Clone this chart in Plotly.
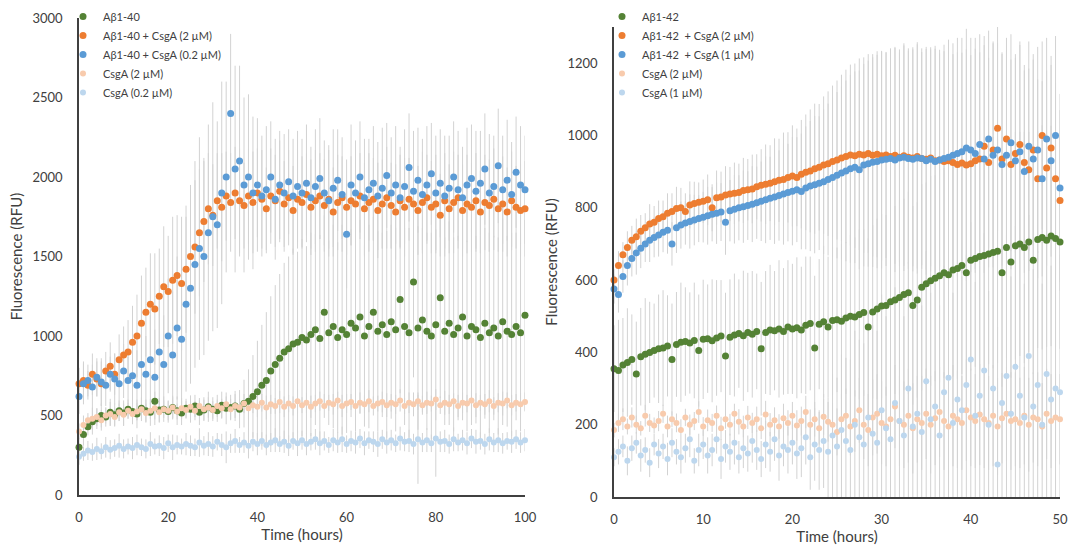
import numpy as np
import plotly.graph_objects as go

# ---------------- Left panel: Aβ1-40 (hourly readings, 0-100 h) ----------------
TIME_40 = np.arange(0, 101, 1)

AB40 = [300, 380, 430, 460, 480, 500, 490, 520, 505, 530,
        515, 540, 525, 510, 545, 530, 520, 590, 535, 540,
        525, 550, 530, 515, 545, 540, 560, 520, 535, 555,
        540, 530, 565, 545, 550, 560, 540, 575, 590, 620,
        650, 690, 720, 780, 820, 860, 900, 920, 950, 960,
        990, 975, 1010, 1040, 985, 1150, 1020, 1060, 990, 1040,
        1010, 1080, 1050, 1120, 1000, 1060, 1150, 1030, 1070, 1010,
        1090, 1040, 1230, 1060, 1020, 1340, 1050, 1100, 1030, 1000,
        1070, 1240, 1030, 1080, 1010, 1050, 1120, 1000, 1060, 1040,
        990, 1080, 1020, 1050, 1000, 1090, 1030, 1010, 1060, 1020,
        1130]
AB40_ERR = [60, 70, 55, 80, 65, 75, 60, 85, 70, 65,
            80, 60, 75, 90, 65, 70, 85, 60, 75, 80,
            70, 65, 90, 75, 60, 85, 70, 80, 65, 95,
            75, 70, 85, 100, 80, 95, 120, 150, 200, 260,
            320, 380, 430, 470, 500, 530, 560, 580, 600, 570,
            620, 590, 640, 600, 650, 610, 580, 640, 600, 660,
            620, 590, 650, 610, 570, 640, 600, 630, 580, 650,
            610, 640, 590, 620, 660, 600, 640, 580, 620, 650,
            600, 630, 590, 640, 610, 580, 650, 600, 620, 590,
            640, 600, 630, 580, 620, 650, 600, 640, 590, 620,
            600]

AB40_CSGA2 = [700, 720, 690, 760, 730, 700, 780, 810, 760, 850,
              880, 900, 960, 1000, 1080, 1150, 1200, 1170, 1250, 1310,
              1280, 1350, 1380, 1330, 1420, 1500, 1560, 1650, 1720, 1800,
              1760, 1850, 1810, 1880, 1840, 1900, 1850, 1820, 1880, 1840,
              1900, 1860, 1800, 1880, 1850, 1910, 1830, 1870, 1790, 1860,
              1840, 1890, 1810, 1850, 1880, 1820, 1860, 1780, 1840, 1870,
              1810, 1850, 1830, 1880, 1800, 1840, 1860, 1790, 1830, 1870,
              1820, 1780, 1850, 1810, 1860, 1830, 1790, 1840, 1870, 1810,
              1830, 1760, 1850, 1800, 1840, 1870, 1790, 1830, 1810, 1850,
              1780, 1840, 1820, 1860, 1800, 1830, 1780, 1850, 1810, 1790,
              1800]
AB40_CSGA2_ERR = [100, 120, 90, 130, 110, 140, 120, 150, 130, 160,
                  180, 200, 230, 260, 300, 280, 320, 350, 300, 380,
                  350, 400, 380, 420, 400, 450, 420, 400, 380, 350,
                  320, 300, 340, 280, 310, 290, 330, 270, 300, 320,
                  280, 310, 260, 300, 290, 320, 270, 300, 280, 310,
                  290, 260, 300, 320, 270, 290, 310, 280, 300, 260,
                  300, 280, 320, 270, 290, 310, 260, 300, 280, 320,
                  270, 300, 290, 310, 260, 300, 280, 320, 270, 290,
                  310, 260, 300, 280, 320, 270, 290, 310, 280, 300,
                  260, 300, 290, 320, 270, 300, 280, 310, 260, 290,
                  300]

AB40_CSGA02 = [620, 700, 720, 680, 740, 710, 690, 760, 730, 700,
               780, 720, 750, 690, 820, 760, 850, 740, 900, 820,
               1000, 880, 1050, 980, 1200, 1300, 1450, 1550, 1500, 1650,
               1750, 1700, 1900, 2000, 2400, 2050, 2100, 1950, 2000, 1900,
               1950, 1880, 1920, 2000, 1860, 1950, 1900, 1970, 1880, 1940,
               1900, 1960, 1870, 1940, 1990, 1900, 1850, 1930, 1980, 1890,
               1640, 1950, 1900, 2000, 1870, 1920, 1960, 1880, 1930, 2010,
               1900, 1950, 1870, 1940, 2060, 1910, 1980, 1890, 1950, 2020,
               1900, 1960, 1880, 1930, 2000, 1920, 1870, 1950, 1990, 1910,
               1960, 2050, 1900, 1940, 2070, 1920, 1980, 1890, 2030, 1950,
               1920]
AB40_CSGA02_ERR = [110, 130, 100, 140, 120, 150, 130, 110, 160, 140,
                   170, 150, 190, 220, 260, 240, 280, 300, 330, 310,
                   360, 400, 450, 500, 550, 600, 650, 700, 620, 680,
                   720, 650, 700, 600, 500, 650, 600, 550, 520, 480,
                   420, 380, 400, 350, 380, 340, 370, 330, 360, 350,
                   340, 370, 320, 360, 380, 330, 350, 370, 320, 360,
                   340, 380, 330, 350, 370, 320, 360, 340, 380, 330,
                   350, 370, 320, 360, 340, 380, 330, 350, 370, 320,
                   360, 340, 380, 330, 350, 370, 320, 360, 340, 380,
                   330, 350, 370, 320, 360, 340, 380, 330, 350, 370,
                   340]

CSGA2_L = [400, 440, 470, 480, 490, 470, 500, 510, 490, 520,
           505, 530, 510, 525, 540, 515, 530, 545, 520, 540,
           530, 550, 525, 545, 535, 555, 530, 560, 540, 550,
           535, 560, 545, 570, 540, 560, 550, 575, 545, 565,
           555, 580, 550, 570, 560, 585, 555, 575, 560, 590,
           565, 580, 555, 575, 590, 560, 580, 570, 595, 560,
           575, 585, 560, 580, 570, 590, 560, 575, 585, 565,
           580, 570, 595, 560, 580, 570, 590, 565, 580, 575,
           600, 565, 580, 570, 590, 560, 580, 575, 595, 565,
           580, 570, 590, 560, 580, 575, 595, 565, 580, 570,
           585]
CSGA2_L_ERR = [50, 60, 45, 70, 55, 65, 50, 75, 60, 55,
               70, 50, 65, 55, 75, 60, 50, 70, 65, 55,
               60, 75, 50, 65, 55, 70, 60, 50, 75, 65,
               55, 70, 60, 50, 65, 75, 55, 60, 70, 50,
               65, 55, 75, 60, 50, 70, 65, 55, 60, 75,
               50, 65, 70, 55, 60, 75, 50, 65, 55, 70,
               60, 50, 75, 65, 55, 70, 60, 50, 65, 75,
               55, 60, 70, 50, 65, 75, 55, 60, 70, 50,
               65, 55, 75, 60, 50, 70, 65, 55, 60, 75,
               50, 65, 70, 55, 60, 75, 50, 65, 55, 70,
               60]

CSGA02_L = [240, 260, 280, 270, 290, 275, 300, 285, 295, 310,
            290, 305, 295, 315, 300, 290, 320, 305, 310, 295,
            325, 300, 315, 305, 320, 310, 300, 330, 310, 320,
            305, 335, 315, 300, 325, 340, 315, 330, 310, 335,
            320, 340, 315, 330, 345, 320, 335, 310, 340, 325,
            345, 320, 335, 350, 325, 340, 315, 345, 330, 350,
            320, 340, 330, 355, 325, 345, 335, 320, 350, 330,
            345, 325, 355, 335, 340, 320, 350, 330, 345, 325,
            355, 335, 340, 320, 350, 330, 345, 325, 355, 335,
            340, 320, 350, 330, 345, 325, 340, 335, 350, 330,
            345]
CSGA02_L_ERR = [50, 45, 60, 55, 70, 50, 65, 60, 55, 75,
                60, 50, 70, 65, 55, 60, 75, 50, 65, 70,
                55, 80, 60, 50, 70, 65, 55, 90, 60, 75,
                65, 55, 70, 100, 60, 75, 50, 65, 80, 60,
                70, 55, 65, 60, 75, 50, 70, 65, 55, 80,
                60, 70, 55, 65, 75, 60, 50, 70, 65, 80,
                55, 65, 70, 60, 75, 55, 65, 80, 60, 70,
                65, 55, 75, 60, 70, 65, 280, 60, 75, 55,
                240, 65, 70, 60, 75, 55, 65, 70, 60, 75,
                55, 65, 70, 60, 75, 65, 55, 70, 60, 65,
                70]

# ---------------- Right panel: Aβ1-42 (half-hourly readings, 0-50 h) ----------------
TIME_42 = np.arange(0, 101) * 0.5

AB42 = [355, 350, 365, 372, 380, 340, 388, 395, 400, 405,
        410, 412, 418, 380, 422, 428, 430, 426, 433, 405,
        436, 438, 432, 440, 445, 390, 442, 448, 452, 446,
        455, 450, 458, 410, 455, 462, 460, 465, 458, 470,
        465, 468, 462, 475, 480, 412, 478, 485, 470, 488,
        490, 486, 495, 500, 498, 505, 510, 470, 512, 520,
        528, 530, 540, 545, 552, 560, 565, 530, 545, 580,
        590, 598, 605, 612, 620, 615, 628, 632, 640, 620,
        655, 660, 665, 668, 672, 676, 680, 620, 690, 650,
        695, 700, 690, 705, 655, 712, 718, 710, 722, 715,
        705]
AB42_ERR = [120, 140, 130, 150, 125, 145, 135, 155, 140, 130,
            150, 160, 140, 155, 145, 165, 150, 140, 160, 155,
            165, 150, 170, 160, 155, 175, 160, 170, 150, 180,
            165, 175, 160, 185, 170, 180, 165, 190, 175, 185,
            180, 195, 175, 190, 185, 200, 180, 210, 195, 205,
            200, 215, 210, 225, 220, 235, 230, 245, 240, 250,
            255, 250, 265, 260, 270, 265, 280, 275, 270, 285,
            280, 290, 285, 295, 290, 300, 295, 305, 300, 310,
            305, 300, 315, 310, 305, 320, 310, 315, 305, 320,
            315, 310, 320, 305, 315, 300, 310, 295, 305, 300,
            295]

AB42_CSGA2 = [600, 640, 670, 690, 710, 720, 735, 745, 755, 760,
              770, 775, 785, 790, 798, 800, 790, 808, 812, 815,
              818, 822, 800, 828, 830, 835, 838, 840, 842, 848,
              850, 852, 858, 862, 865, 868, 872, 876, 878, 884,
              888, 884, 893, 898, 902, 908, 912, 918, 922, 928,
              932, 938, 942, 946, 944, 948, 946, 950, 945, 948,
              944, 946, 942, 945, 940, 944, 940, 938, 942, 936,
              934, 938, 930, 932, 928, 930, 925, 920, 924, 918,
              922, 930, 935, 970, 925, 960, 1020, 935, 990, 920,
              950, 975, 925, 905, 960, 880, 1000, 910, 965, 880,
              820]
AB42_CSGA2_ERR = [30, 40, 35, 45, 40, 50, 45, 40, 55, 45,
                  50, 45, 55, 50, 60, 55, 50, 65, 60, 55,
                  60, 70, 65, 75, 70, 80, 75, 85, 80, 90,
                  85, 95, 90, 100, 110, 105, 120, 115, 130, 125,
                  140, 135, 150, 160, 170, 180, 175, 190, 200, 210,
                  220, 230, 240, 250, 255, 265, 270, 275, 280, 285,
                  290, 285, 295, 300, 290, 305, 295, 300, 310, 295,
                  305, 300, 310, 295, 305, 315, 300, 310, 305, 320,
                  300, 310, 295, 305, 290, 300, 285, 295, 280, 290,
                  275, 285, 270, 280, 265, 275, 260, 270, 255, 265,
                  250]

AB42_CSGA1 = [575, 560, 610, 640, 660, 675, 688, 700, 710, 718,
              725, 732, 738, 700, 745, 752, 758, 762, 766, 770,
              774, 778, 782, 785, 788, 760, 792, 796, 800, 803,
              806, 810, 814, 818, 822, 826, 830, 834, 838, 842,
              846, 850, 845, 855, 860, 864, 868, 872, 878, 884,
              890, 896, 902, 908, 912, 905, 918, 922, 926, 928,
              932, 934, 936, 932, 938, 940, 936, 934, 938, 936,
              930, 934, 928, 932, 936, 940, 945, 950, 955, 965,
              960, 950, 975, 935, 990, 945, 960, 920, 945, 980,
              930, 955, 900, 970, 935, 960, 880, 990, 930, 1000,
              855]
AB42_CSGA1_ERR = [40, 50, 45, 55, 50, 60, 55, 50, 60, 55,
                  60, 55, 65, 60, 70, 65, 60, 75, 70, 65,
                  70, 80, 75, 85, 80, 90, 85, 95, 90, 100,
                  95, 105, 100, 110, 120, 115, 130, 125, 140, 135,
                  150, 145, 160, 170, 180, 190, 185, 200, 210, 220,
                  230, 240, 250, 260, 265, 275, 280, 285, 290, 295,
                  300, 295, 305, 310, 300, 315, 305, 310, 320, 305,
                  315, 310, 320, 305, 315, 325, 310, 320, 315, 330,
                  310, 320, 305, 315, 300, 310, 295, 305, 290, 300,
                  285, 295, 280, 290, 275, 285, 270, 280, 265, 275,
                  260]

CSGA2_R = [185, 205, 215, 195, 220, 200, 190, 225, 205, 198,
           210, 230, 195, 215, 205, 185, 220, 200, 210, 235,
           195, 212, 205, 225, 190, 215, 200, 230, 208, 195,
           220, 205, 215, 190, 228, 200, 212, 195, 218, 205,
           225, 198, 210, 235, 200, 215, 190, 222, 208, 200,
           180, 215, 225, 195, 210, 240, 200, 185, 220, 230,
           205, 195, 215, 250, 210, 200, 225, 190, 215, 205,
           230, 200, 218, 235, 210, 195, 225, 215, 205, 240,
           220, 210, 228, 215, 205, 225, 195, 218, 230, 210,
           215, 205, 225, 200, 220, 215, 195, 230, 210, 220,
           215]
CSGA2_R_ERR = [20, 25, 30, 22, 28, 25, 20, 30, 25, 22,
               28, 25, 30, 22, 26, 30, 24, 28, 25, 30,
               26, 30, 25, 28, 32, 26, 30, 28, 35, 30,
               32, 28, 35, 30, 38, 32, 36, 34, 40, 35,
               38, 42, 40, 45, 42, 48, 45, 50, 55, 60,
               65, 70, 75, 80, 85, 90, 95, 100, 105, 110,
               115, 110, 120, 115, 125, 120, 130, 125, 120, 130,
               125, 135, 130, 125, 135, 130, 140, 135, 130, 140,
               135, 130, 140, 135, 130, 140, 135, 125, 130, 135,
               130, 125, 135, 130, 125, 130, 120, 125, 130, 120,
               125]

CSGA1_R = [110, 125, 140, 100, 135, 150, 115, 130, 95, 145,
           120, 140, 105, 150, 125, 110, 135, 160, 100, 130,
           145, 115, 130, 160, 105, 140, 125, 150, 110, 135,
           120, 155, 130, 105, 145, 125, 160, 115, 140, 130,
           150, 120, 135, 165, 110, 145, 130, 155, 125, 170,
           140, 185, 155, 130, 200, 165, 145, 220, 175, 150,
           240, 190, 160, 260, 210, 170, 300, 195, 230, 180,
           320, 215, 250, 170, 290, 330, 205, 270, 240, 310,
           380, 225, 280, 350, 200, 300, 90, 260, 335, 230,
           360, 280, 220, 390, 250, 310, 200, 340, 270, 300,
           290]
CSGA1_R_ERR = [25, 35, 30, 40, 35, 30, 45, 35, 40, 30,
               40, 35, 45, 40, 35, 45, 40, 50, 35, 45,
               40, 50, 45, 40, 55, 45, 50, 60, 45, 55,
               50, 60, 55, 50, 65, 55, 60, 70, 55, 65,
               60, 70, 80, 75, 90, 100, 110, 130, 150, 170,
               190, 210, 230, 250, 260, 270, 280, 290, 300, 310,
               320, 310, 330, 320, 340, 330, 350, 340, 330, 350,
               360, 350, 340, 360, 350, 370, 360, 350, 370, 360,
               380, 370, 360, 380, 370, 360, 380, 370, 390, 380,
               390, 380, 370, 390, 380, 370, 390, 380, 370, 390,
               380]

LEFT_NAMES = ["Aβ1-40", "Aβ1-40 + CsgA (2 µM)", "Aβ1-40 + CsgA (0.2 µM)",
              "CsgA (2 µM)", "CsgA (0.2 µM)"]
RIGHT_NAMES = ["Aβ1-42", "Aβ1-42  + CsgA (2 µM)", "Aβ1-42  + CsgA (1 µM)",
               "CsgA (2 µM)", "CsgA (1 µM)"]

COLORS = ["#548235", "#ED7D31", "#5B9BD5", "#F8CBAD", "#BDD7EE"]
SIZES = [7, 7, 7, 6, 6]
ERR_COLOR = "#D2D2D2"
TEXT = "#404040"
FONT = "Lato, 'Open Sans', sans-serif"

left_series = [(AB40, AB40_ERR), (AB40_CSGA2, AB40_CSGA2_ERR), (AB40_CSGA02, AB40_CSGA02_ERR),
               (CSGA2_L, CSGA2_L_ERR), (CSGA02_L, CSGA02_L_ERR)]
right_series = [(AB42, AB42_ERR), (AB42_CSGA2, AB42_CSGA2_ERR), (AB42_CSGA1, AB42_CSGA1_ERR),
                (CSGA2_R, CSGA2_R_ERR), (CSGA1_R, CSGA1_R_ERR)]

fig = go.Figure()

# error bars first (drawn underneath all markers)
for panel, (tt, series) in enumerate([(TIME_40, left_series), (TIME_42, right_series)]):
    xa, ya = ("x", "y") if panel == 0 else ("x2", "y2")
    for vals, errs in series:
        fig.add_trace(go.Scatter(
            x=tt, y=vals, xaxis=xa, yaxis=ya, mode="markers",
            marker=dict(size=1, opacity=0),
            error_y=dict(type="data", array=errs, visible=True, color=ERR_COLOR,
                         thickness=1, width=0),
            showlegend=False, hoverinfo="skip"))

# markers
for panel, (tt, series, names) in enumerate([(TIME_40, left_series, LEFT_NAMES),
                                               (TIME_42, right_series, RIGHT_NAMES)]):
    xa, ya = ("x", "y") if panel == 0 else ("x2", "y2")
    for i, (vals, errs) in enumerate(series):
        fig.add_trace(go.Scatter(
            x=tt, y=vals, xaxis=xa, yaxis=ya, mode="markers", name=names[i],
            marker=dict(size=SIZES[i], color=COLORS[i], line=dict(width=0)),
            cliponaxis=False,
            legend="legend" if panel == 0 else "legend2"))

H = 547.0
W = 1070.0

axis_common = dict(showline=True, linecolor=TEXT, linewidth=1.5, showgrid=False,
                   zeroline=False, ticks="outside", tickcolor="rgba(0,0,0,0)",
                   automargin=False, ticklabeloverflow="allow",
                   tickfont=dict(family=FONT, size=13, color=TEXT),
                   title_font=dict(family=FONT, size=15, color=TEXT))

fig.update_layout(
    width=1070, height=547,
    margin=dict(l=0, r=0, t=0, b=0, autoexpand=False),
    paper_bgcolor="white", plot_bgcolor="white",
    font=dict(family=FONT, color=TEXT),
    xaxis=dict(domain=[79 / W, 525 / W], range=[0, 100], anchor="y",
               tickvals=[0, 20, 40, 60, 80, 100], ticklen=10,
               title=dict(text="Time (hours)", standoff=2), **axis_common),
    yaxis=dict(domain=[(H - 495) / H, (H - 18) / H], range=[0, 3000], anchor="x",
               tickvals=[0, 500, 1000, 1500, 2000, 2500, 3000], ticklen=12,
               title=dict(text="Fluorescence (RFU)", standoff=6), **axis_common),
    xaxis2=dict(domain=[614 / W, 1060 / W], range=[0, 50], anchor="y2",
                tickvals=[0, 10, 20, 30, 40, 50], ticklen=10,
                title=dict(text="Time (hours)", standoff=2), **axis_common),
    yaxis2=dict(domain=[(H - 497) / H, (H - 27) / H], range=[0, 1300], anchor="x2",
                tickvals=[0, 200, 400, 600, 800, 1000, 1200], ticklen=12,
                title=dict(text="Fluorescence (RFU)", standoff=6), **axis_common),
    legend=dict(x=63 / W, y=1 - 2 / H, xanchor="left", yanchor="top",
                bgcolor="rgba(0,0,0,0)", itemsizing="trace",
                font=dict(family=FONT, size=11, color=TEXT), tracegroupgap=0),
    legend2=dict(x=602 / W, y=1 - 2 / H, xanchor="left", yanchor="top",
                 bgcolor="rgba(0,0,0,0)", itemsizing="trace",
                 font=dict(family=FONT, size=11, color=TEXT), tracegroupgap=0),
)

fig.write_html("out.html", config={"displayModeBar": False},
               post_script="document.body.style.margin='0px';document.body.style.overflow='hidden';")
